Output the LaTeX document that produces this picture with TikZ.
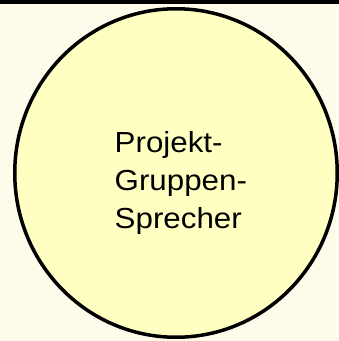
\documentclass[tikz,border=0pt]{standalone}
\usepackage{fontspec}
\setmainfont{Liberation Sans}
\newfontfamily\wideSans[FakeStretch=1.08]{Liberation Sans}
\usetikzlibrary{shapes.geometric}
\definecolor{bgcream}{HTML}{FFFBEA}
\definecolor{circfill}{HTML}{FFFFC2}
\tikzset{
  bubble/.style={ellipse, draw=black, line width=3.5pt, fill=circfill, inner sep=0pt},
  label/.style={inner sep=0pt, align=left, font=\wideSans\fontsize{29}{38.15}\selectfont}
}
\begin{document}
\begin{tikzpicture}[x=1pt,y=-1pt]
\fill[bgcream] (0,0) rectangle (339,341);
\useasboundingbox (0,0) rectangle (339,341);
\fill[black] (0,0) rectangle (339,3.5);
\node[bubble, minimum width=322.5pt, minimum height=328.5pt] (circle) at (176,173) {};
\node[label, anchor=north west] (text) at (114.5,131) {Projekt-\\Gruppen-\\Sprecher};
\end{tikzpicture}
\end{document}
